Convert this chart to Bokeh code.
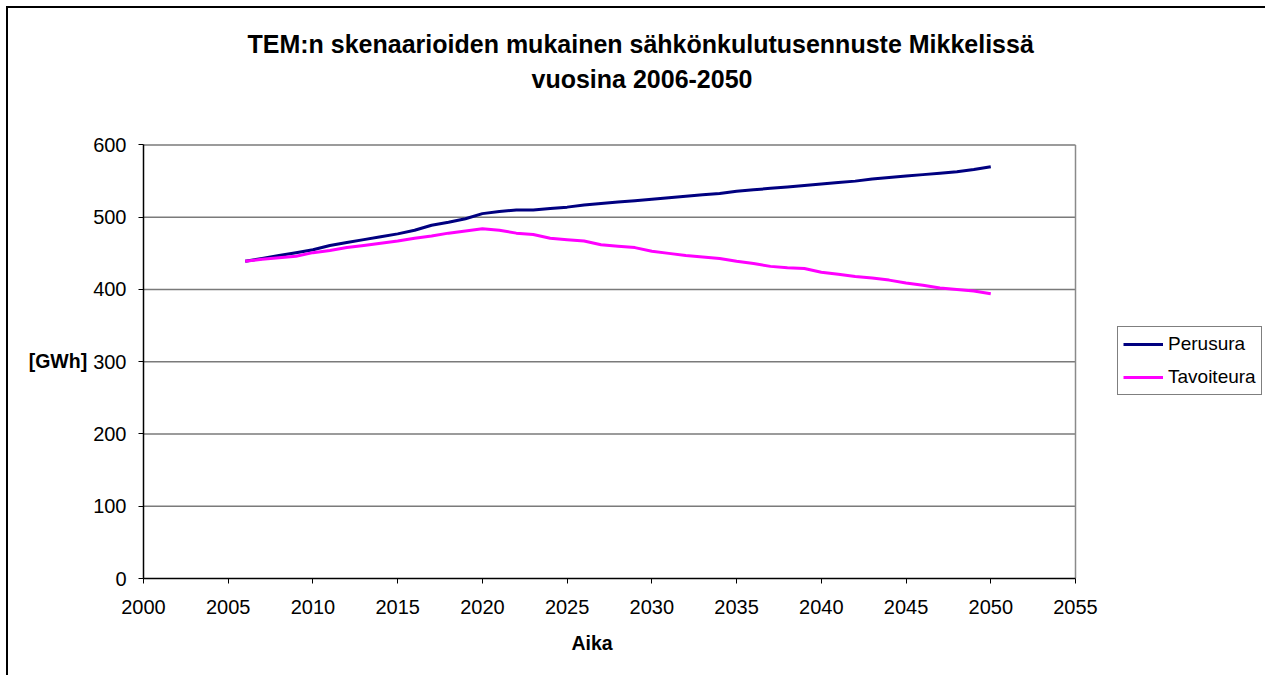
from bokeh.plotting import figure
from bokeh.models import FixedTicker, Legend, LegendItem, Range1d, Title
from bokeh.embed import file_html
from bokeh.resources import INLINE

# ---------------- data ----------------
years = [2006, 2007, 2008, 2009, 2010, 2011, 2012, 2013, 2014, 2015,
         2016, 2017, 2018, 2019, 2020, 2021, 2022, 2023, 2024, 2025,
         2026, 2027, 2028, 2029, 2030, 2031, 2032, 2033, 2034, 2035,
         2036, 2037, 2038, 2039, 2040, 2041, 2042, 2043, 2044, 2045,
         2046, 2047, 2048, 2049, 2050]
perusura = [439, 443, 447, 451, 455, 461, 465, 469, 473, 477,
            482, 489, 493, 498, 505, 508, 510, 510, 512, 514,
            517, 519, 521, 523, 525, 527, 529, 531, 533, 536,
            538, 540, 542, 544, 546, 548, 550, 553, 555, 557,
            559, 561, 563, 566, 570]
tavoiteura = [439, 442, 444, 446, 451, 454, 458, 461, 464, 467,
              471, 474, 478, 481, 484, 482, 478, 476, 471, 469,
              467, 462, 460, 458, 453, 450, 447, 445, 443, 439,
              436, 432, 430, 429, 424, 421, 418, 416, 413, 409,
              406, 402, 400, 398, 394]
series_names = ["Perusura", "Tavoiteura"]
x_ticks = [2000, 2005, 2010, 2015, 2020, 2025, 2030, 2035, 2040, 2045, 2050, 2055]
y_ticks = [0, 100, 200, 300, 400, 500, 600]
title_lines = ["TEM:n skenaarioiden mukainen sähkönkulutusennuste Mikkelissä",
               "vuosina 2006-2050"]
x_label = "Aika"
y_label = "[GWh]"

FONT = "Liberation Sans"

# ---------------- layout (pixels) ----------------
CANVAS_W, CANVAS_H = 1259, 669          # canvas starts at page (8, 8)
PLOT_L, PLOT_R = 143, 1075              # plot-area box in page pixels
PLOT_T, PLOT_B = 144, 578
x_min, x_max = x_ticks[0], x_ticks[-1]
y_min, y_max = y_ticks[0], y_ticks[-1]
px_per_x = (PLOT_R - PLOT_L) / (x_max - x_min)
px_per_y = (PLOT_B - PLOT_T) / (y_max - y_min)
# the frame is extended to the right edge (room for the legend) and 1.5 px up
x_end = x_max + (8 + CANVAS_W - PLOT_R) / px_per_x
y_end = y_max + 1.5 / px_per_y

p = figure(width=CANVAS_W, height=CANVAS_H, output_backend="svg", toolbar_location=None,
           title=None,
           x_range=Range1d(x_min, x_end), y_range=Range1d(y_min, y_end),
           min_border_left=PLOT_L - 8, min_border_right=0,
           min_border_top=PLOT_T - 8 - 1, min_border_bottom=8 + CANVAS_H - PLOT_B)
p.styles = {"margin-left": "6px", "margin-top": "6px",
            "border-left": "2px solid black", "border-top": "2px solid black"}
p.background_fill_color = "white"
p.border_fill_color = "white"
p.outline_line_color = None
p.xgrid.visible = False
p.ygrid.visible = False

# horizontal grid lines (incl. top edge of plot area) and right edge
n = len(y_ticks) - 1
p.segment(x0=[x_min] * n, y0=y_ticks[1:], x1=[x_max] * n, y1=y_ticks[1:],
          line_color="#7a7a7a", line_width=1.5)
p.segment(x0=[x_max], y0=[y_min], x1=[x_max], y1=[y_max],
          line_color="#8a8a8a", line_width=1.5)

for ax in (p.xaxis[0], p.yaxis[0]):
    ax.axis_line_color = "black"
    ax.axis_line_width = 1.5
    ax.major_tick_line_color = "black"
    ax.major_tick_line_width = 1
    ax.major_tick_in = 0
    ax.major_tick_out = 5
    ax.minor_tick_line_color = None
    ax.major_label_text_font = FONT
    ax.major_label_text_font_size = "20px"
    ax.major_label_text_color = "black"
    ax.axis_label_text_font = FONT
    ax.axis_label_text_font_size = "19.5px"
    ax.axis_label_text_font_style = "bold"
    ax.axis_label_text_color = "black"

p.xaxis.ticker = FixedTicker(ticks=x_ticks)
p.yaxis.ticker = FixedTicker(ticks=y_ticks)
p.xaxis.bounds = (x_min, x_max)
p.yaxis.bounds = (y_min, y_max)
p.xaxis.major_label_standoff = 16
p.yaxis.major_label_standoff = 12
p.yaxis.axis_label = y_label
p.yaxis.axis_label_orientation = "horizontal"
p.yaxis.axis_label_standoff = 3

r1 = p.line(years, perusura, line_color="#000080", line_width=3)
r2 = p.line(years, tavoiteura, line_color="#FF00FF", line_width=3)

legend = Legend(items=[LegendItem(label=series_names[0], renderers=[r1]),
                       LegendItem(label=series_names[1], renderers=[r2])],
                location=(1117 - PLOT_L, PLOT_B - 395))
legend.border_line_color = "black"
legend.border_line_width = 1
legend.background_fill_color = "white"
legend.background_fill_alpha = 1
legend.label_text_font = FONT
legend.label_text_font_size = "19px"
legend.label_text_color = "black"
legend.glyph_width = 40
legend.glyph_height = 24
legend.label_height = 24
legend.spacing = 9
legend.padding = 5
legend.margin = 0
legend.label_standoff = 5
p.add_layout(legend)

# x-axis title, placed below the axis, centred under the plot area
x_title = Title(text=x_label, align="left", offset=428, standoff=31, vertical_align="top",
                text_font=FONT, text_font_size="19.5px", text_font_style="bold",
                text_color="black")
p.add_layout(x_title, "below")

# chart title: spacer nearest the frame, then line 2, then line 1 (outermost)
spacer = Title(text=" ", text_font_size="1px", standoff=45)
p.add_layout(spacer, "above")
t2 = Title(text=title_lines[1], align="left", offset=388, standoff=5,
           text_font=FONT, text_font_size="25px", text_font_style="bold",
           text_color="black")
p.add_layout(t2, "above")
t1 = Title(text=title_lines[0], align="left", offset=104, standoff=5,
           text_font=FONT, text_font_size="25px", text_font_style="bold",
           text_color="black")
p.add_layout(t1, "above")

open("out.html", "w").write(file_html(p, INLINE))
